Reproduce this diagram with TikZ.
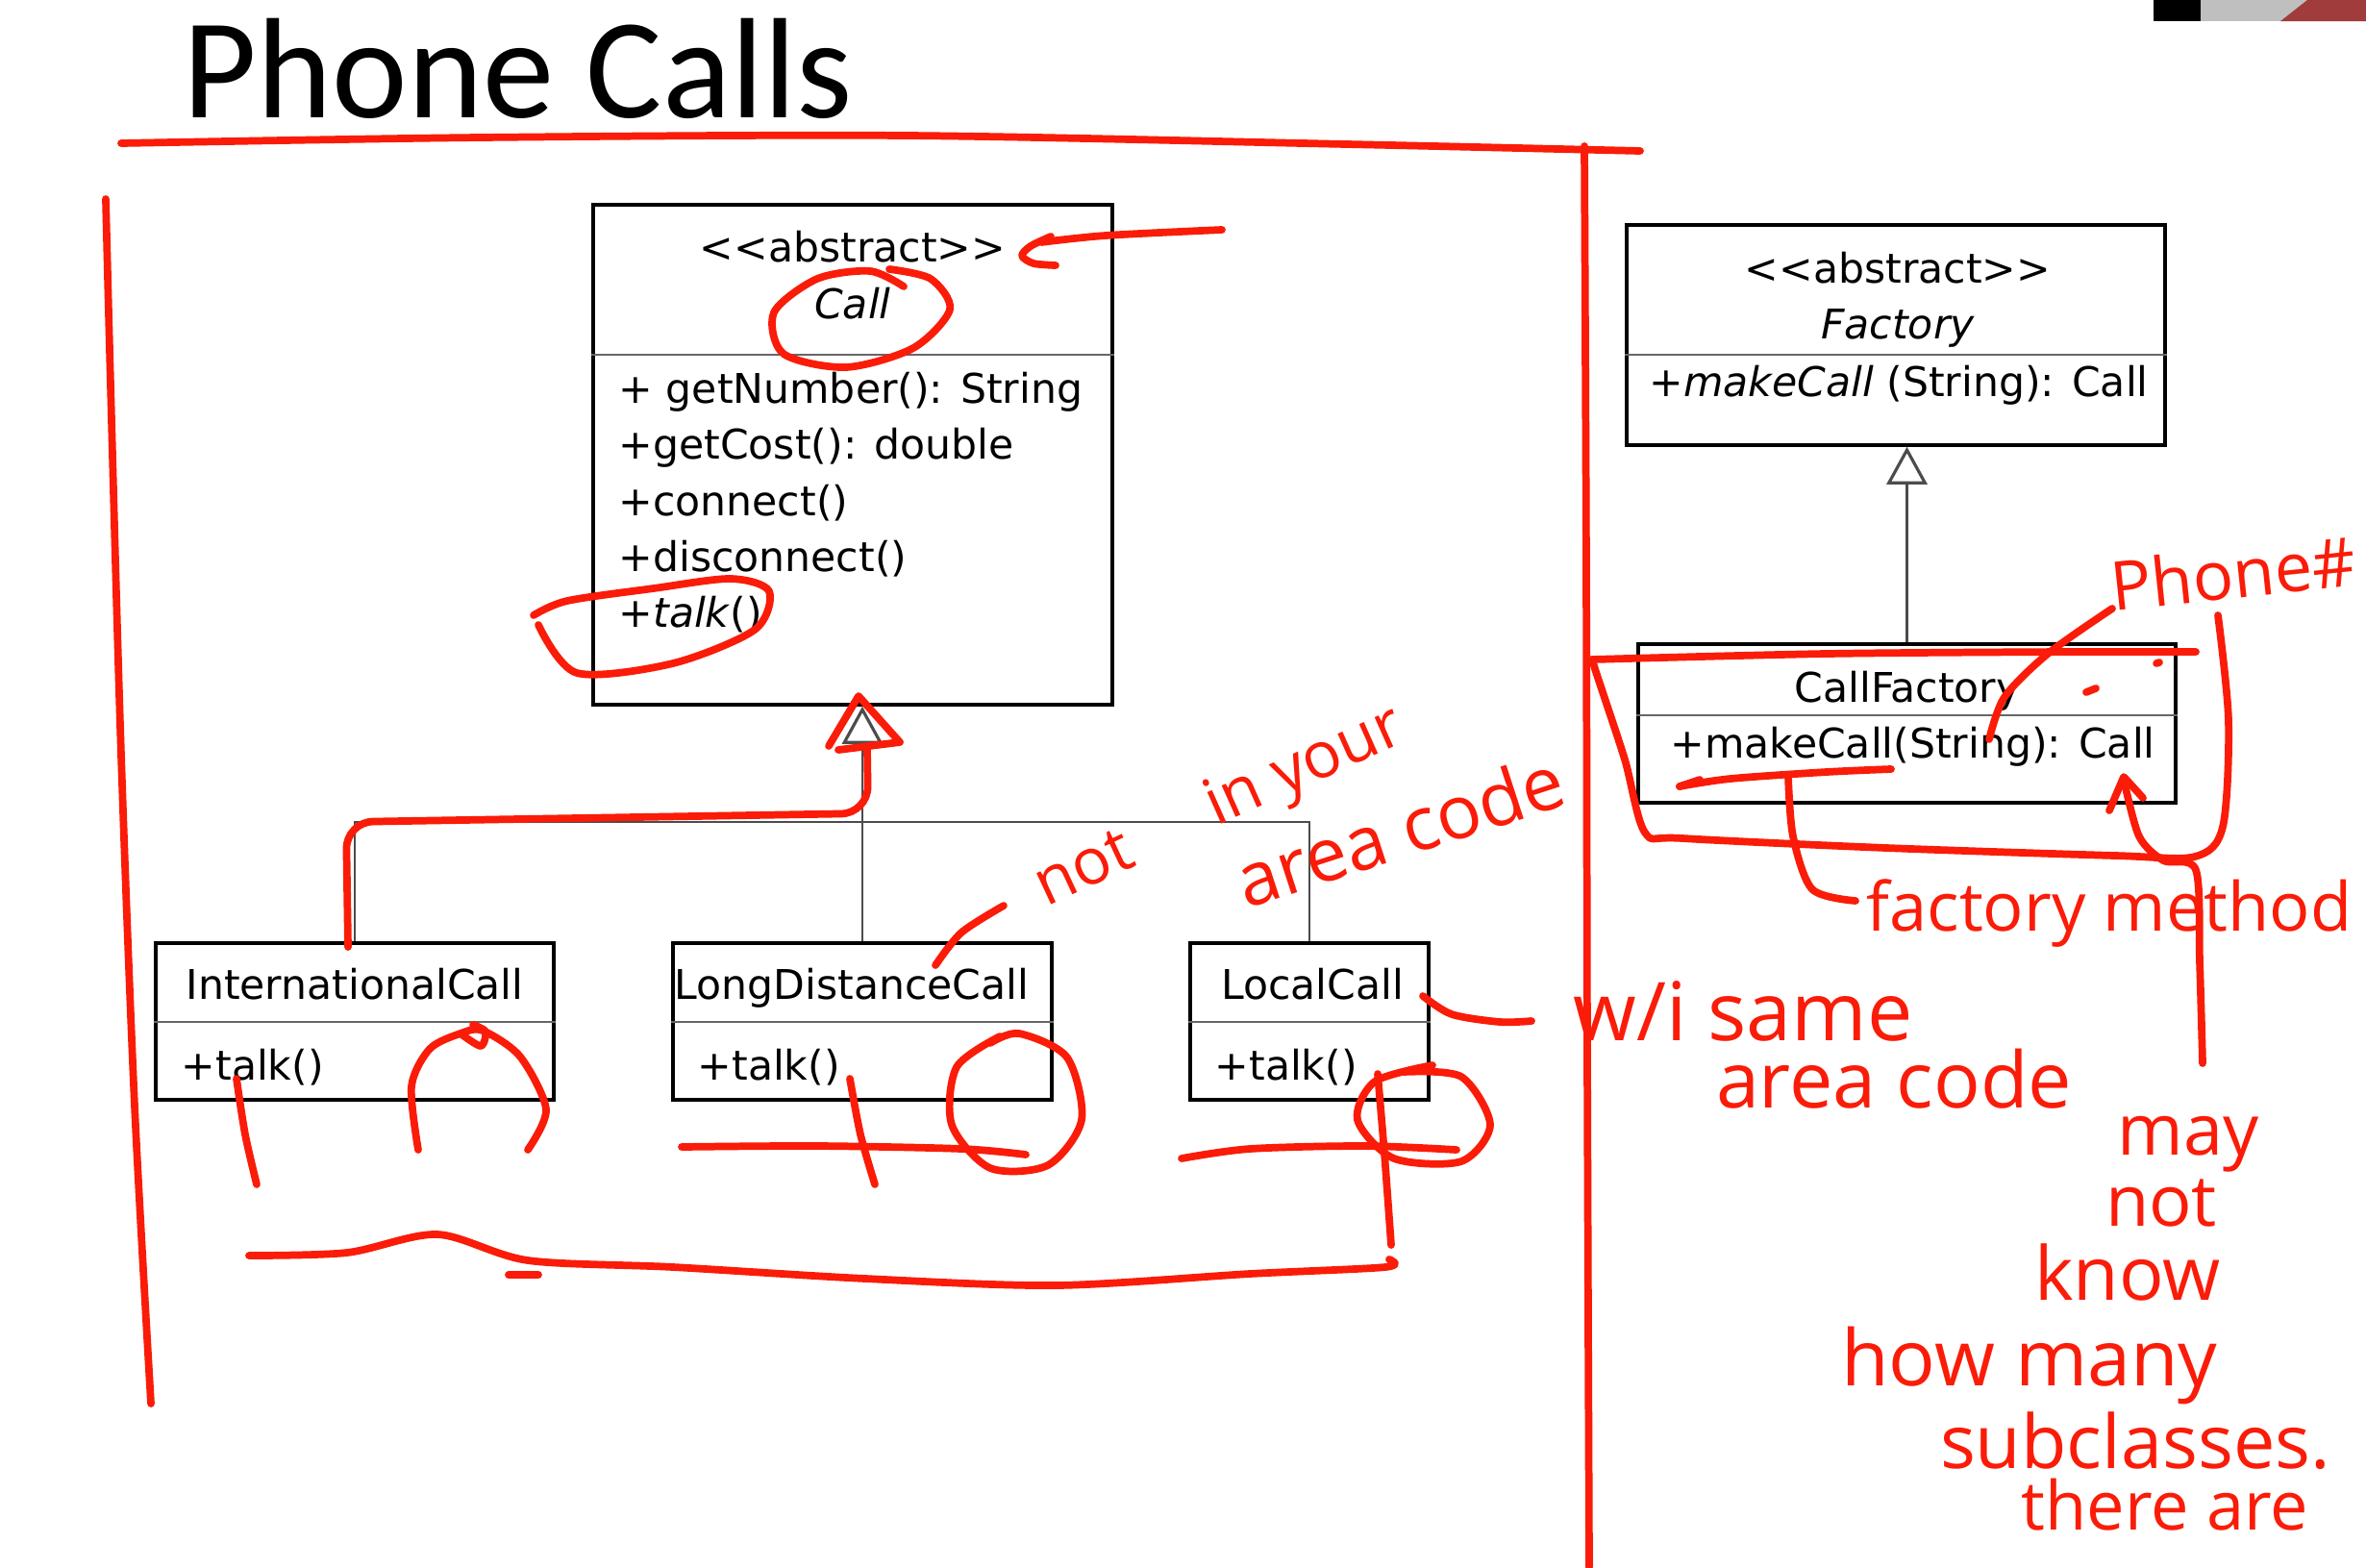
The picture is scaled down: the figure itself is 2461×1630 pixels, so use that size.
\documentclass[tikz,border=0pt]{standalone}
\usepackage{fontspec}
\setmainfont{DejaVu Sans}
\newfontfamily\titlefont{Carlito}
\newfontfamily\handfont{Open Sans}
\usetikzlibrary{arrows.meta,fit}
\definecolor{pen}{RGB}{250,28,8}
\definecolor{camred}{RGB}{160,60,60}
\begin{document}
\begin{tikzpicture}[x=0.01cm,y=-0.01cm,
  uml/.style={draw=black, line width=1pt, inner sep=0pt},
  umltext/.style={font=\fontsize{12.1pt}{14pt}\selectfont, inner sep=0pt},
  divider/.style={draw=black!60, line width=0.6pt},
  inherit/.style={draw=black!70, line width=0.6pt},
  genarrow/.style={inherit, -{Triangle[open, width=0.42cm, length=0.39cm, line width=0.9pt]}},
  ink/.style={draw=pen, line width=2.2pt, line cap=round, line join=round},
  handtext/.style={text=pen, inner sep=0pt, font=\handfont\fontsize{#1}{#1}\selectfont}]
\useasboundingbox (0,0) rectangle (2461,1630);
\fill[white] (0,0) rectangle (2461,1630);

% webcam strip
\fill[black] (2240,0) rectangle (2289,22);
\fill[black!25] (2289,0) rectangle (2461,22);
\fill[camred] (2372,22) -- (2400,0) -- (2461,0) -- (2461,22) -- cycle;

% title
\node[anchor=base west, inner sep=0pt, font=\titlefont\fontsize{42.3pt}{44pt}\selectfont] (title) at (190,122) {Phone Calls};

% class boxes
\node[uml, fit={(617,213) (1157,733)}] (call) {};
\node[uml, fit={(1692,234) (2252,463)}] (factory) {};
\node[uml, fit={(1704,670) (2263,835)}] (callfactory) {};
\node[uml, fit={(162,981) (576,1144)}] (icall) {};
\node[uml, fit={(700,981) (1094,1144)}] (ldcall) {};
\node[uml, fit={(1238,981) (1486,1144)}] (lcall) {};

\draw[divider] (call.west |- 0,369) -- (call.east |- 0,369);
\draw[divider] (factory.west |- 0,369) -- (factory.east |- 0,369);
\draw[divider] (callfactory.west |- 0,744) -- (callfactory.east |- 0,744);
\draw[divider] (icall.west |- 0,1063) -- (icall.east |- 0,1063);
\draw[divider] (ldcall.west |- 0,1063) -- (ldcall.east |- 0,1063);
\draw[divider] (lcall.west |- 0,1063) -- (lcall.east |- 0,1063);

% texts Call
\node[umltext, anchor=base] (callst) at (887,272) {{<}{<}abstract{>}{>}};
\node[umltext, anchor=base] (callname) at (887,331) {\itshape Call};
\node[umltext, anchor=base west] (m1) at (643,419) {+ getNumber(): String};
\node[umltext, anchor=base west] (m2) at (643,477) {+getCost(): double};
\node[umltext, anchor=base west] (m3) at (643,536) {+connect()};
\node[umltext, anchor=base west] (m4) at (643,594) {+disconnect()};
\node[umltext, anchor=base west] (m5) at (643,652) {+\textit{talk}()};

% Factory
\node[umltext, anchor=base] (facst) at (1974,294) {{<}{<}abstract{>}{>}};
\node[umltext, anchor=base] (facname) at (1974,352) {\itshape Factory};
\node[umltext, anchor=base west] (facm) at (1715,412) {+\textit{makeCall} (String): Call};

% CallFactory
\node[umltext, anchor=base] (cfname) at (1984,730) {CallFactory};
\node[umltext, anchor=base west] (cfm) at (1737,788) {+makeCall(String): Call};

% subclasses
\node[umltext, anchor=base] (iname) at (369,1039) {InternationalCall};
\node[umltext, anchor=base west] (italk) at (188,1123) {+talk()};
\node[umltext, anchor=base] (ldname) at (886,1039) {LongDistanceCall};
\node[umltext, anchor=base west] (ldtalk) at (725,1123) {+talk()};
\node[umltext, anchor=base] (lname) at (1365,1039) {LocalCall};
\node[umltext, anchor=base west] (ltalk) at (1263,1123) {+talk()};

% connectors
\coordinate (jn) at (897,855);
\draw[genarrow] (ldcall.north) -- (ldcall.north |- call.south);
\draw[inherit] (icall.north) |- (jn);
\draw[inherit] (lcall.north) |- (jn);
\draw[genarrow] (callfactory.north) -- (callfactory.north |- factory.south);

% ---------------- red ink ----------------
\draw[ink] plot[smooth] coordinates {(126,149) (500,143) (942,141) (1400,150) (1706,157)};
\draw[ink] plot[smooth] coordinates {(110,207) (115,400) (126,785) (140,1150) (157,1460)};
\draw[ink] plot[smooth] coordinates {(1648,152) (1650,600) (1651,1100) (1653,1630)};
% arrow to abstract
\draw[ink] plot[smooth] coordinates {(1271,239) (1150,245) (1083,252)};
\draw[ink] plot[smooth] coordinates {(1093,246) (1072,256) (1063,266) (1075,274) (1098,276)};
% circle Call
\draw[ink] plot[smooth] coordinates {(940,298) (905,282) (850,290) (805,325) (815,368) (880,382) (950,362) (988,322) (968,290) (925,280)};
% circle talk
\draw[ink] plot[smooth] coordinates {(560,650) (600,700) (700,690) (785,655) (800,615) (760,602) (680,612) (590,625) (555,640)};
% triangle
\draw[ink] (862,776) -- (893,724) -- (936,772) -- (872,780);
% tree overlay
\draw[ink, rounded corners=8pt] (902,780) -- (903,846) -- (360,855) -- (362,985);
% LDC stroke to "not"
\draw[ink] plot[smooth] coordinates {(973,1004) (1000,970) (1044,942)};
% International talk marks
\draw[ink] plot[smooth] coordinates {(246,1122) (255,1180) (267,1232)};
\draw[ink] plot[smooth] coordinates {(435,1196) (428,1130) (447,1091) (479,1075) (502,1072) (541,1099) (568,1154) (549,1196)};
\draw[ink] plot[smooth] coordinates {(479,1075) (500,1088) (505,1073) (492,1066)};
% LDC marks
\draw[ink] plot[smooth] coordinates {(884,1122) (895,1180) (910,1232)};
\draw[ink] plot[smooth] coordinates {(1040,1078) (995,1110) (990,1170) (1030,1215) (1090,1212) (1125,1165) (1110,1100) (1060,1075) (1030,1085)};
\draw[ink] plot[smooth] coordinates {(709,1193) (850,1192) (1000,1195) (1067,1201)};
% Local marks
\draw[ink] plot[smooth] coordinates {(1229,1205) (1300,1195) (1420,1192) (1515,1196)};
\draw[ink] plot[smooth] coordinates {(1490,1108) (1430,1125) (1412,1165) (1450,1205) (1520,1208) (1550,1170) (1520,1120) (1460,1115)};
\draw[ink] plot[smooth] coordinates {(1433,1117) (1440,1200) (1447,1295)};
\draw[ink] plot[smooth] coordinates {(1480,1036) (1510,1055) (1560,1063) (1593,1062)};
% wave
\draw[ink] plot[smooth] coordinates {(259,1306) (361,1303) (455,1284) (549,1311) (700,1318) (900,1330) (1099,1337) (1300,1325) (1441,1318) (1445,1310)};
\draw[ink] (529,1326) -- (560,1326);
% enclosure CallFactory
\draw[ink] plot[smooth] coordinates {(1656,686) (1900,680) (2150,678) (2284,678)};
\draw[ink] plot[smooth] coordinates {(1656,686) (1662,705) (1690,790) (1711,866) (1750,872) (1962,882) (2200,890) (2283,891) (2312,860) (2318,750) (2307,640)};
% Phone# connector
\draw[ink] plot[smooth] coordinates {(2069,769) (2085,725) (2130,680) (2197,633)};
% makeCall underline
\draw[ink] plot[smooth] coordinates {(1747,818) (1800,810) (1900,803) (1967,800)};
\draw[ink] (1747,818) -- (1768,811);
% factory method connector
\draw[ink] plot[smooth] coordinates {(1860,808) (1865,870) (1885,925) (1930,937)};
% arrow to Call
\draw[ink] plot[smooth] coordinates {(2291,1106) (2288,1000) (2284,905) (2250,895) (2225,870) (2210,815)};
\draw[ink] (2194,843) -- (2209,808) -- (2229,830);
\draw[ink] (2170,720) -- (2180,716);
\draw[ink] (2243,690) -- (2246,689);

% handwritten texts
\node[handtext=19pt, rotate=25] (hnot) at (1127,902) {not};
\node[handtext=19pt, rotate=24] (hinyour) at (1358,800) {in your};
\node[handtext=22pt, rotate=18] (harea) at (1456,863) {area code};
\node[handtext=24pt] (hwi) at (1813,1052) {w/i same};
\node[handtext=23pt] (harea2) at (1970,1122) {area code};
\node[handtext=20pt, rotate=6] (hphone) at (2323,596) {Phone\#};
\node[handtext=20pt] (hfm) at (2194,950) {factory method};
\node[handtext=21pt] (hmay) at (2276,1190) {may};
\node[handtext=21pt] (hnot2) at (2248,1251) {not};
\node[handtext=22pt] (hknow) at (2213,1323) {know};
\node[handtext=23pt] (hhow) at (2111,1420) {how many};
\node[handtext=22pt] (hsub) at (2221,1499) {subclasses.};
\node[handtext=20pt] (hthere) at (2252,1565) {there are};
\end{tikzpicture}
\end{document}
